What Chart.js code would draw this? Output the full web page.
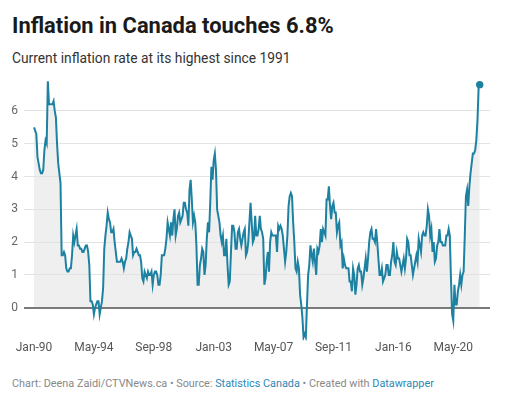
<!DOCTYPE html>
<html>
<head>
<meta charset="utf-8">
<script src="https://cdn.jsdelivr.net/npm/chart.js@4"></script>
<style>
  body { margin:0; background:#fff; font-family:Roboto, sans-serif; width:514px; height:398px; overflow:hidden; position:relative; }
  .title { position:absolute; left:12px; top:15px; margin:0; font-size:21.9px; line-height:1; font-weight:700; color:#1a1a1a; }
  .sub { position:absolute; left:12px; top:51.5px; font-size:13.8px; line-height:1; color:#333; }
  .chart { position:absolute; left:0; top:70px; width:514px; height:300px; }
  .foot { position:absolute; left:12px; top:379px; font-size:10.85px; line-height:1; color:#888; white-space:nowrap; }
  .foot a { color:#2b88b8; text-decoration:none; }
</style>
</head>
<body>
<div class="title">Inflation in Canada touches 6.8%</div>
<div class="sub">Current inflation rate at its highest since 1991</div>
<div class="chart"><canvas id="chart-cpi" width="514" height="300"></canvas></div>
<div class="foot">Chart: Deena Zaidi/CTVNews.ca • Source: <a>Statistics Canada</a> • Created with <a>Datawrapper</a></div>

<script>
// monthly CPI, 12-month % change, Jan 1990 .. Apr 2022
const startYear = 1990;
const cpi = [
  5.5, 5.4, 5.3, 4.6, 4.4, 4.2, 4.1, 4.1, 4.2, 4.8, 5.1, 5.0,   // 1990
  6.9, 6.2, 6.2, 6.2, 6.2, 6.3, 6.0, 5.8, 5.0, 4.4, 4.1, 3.8,   // 1991
  1.6, 1.6, 1.7, 1.6, 1.2, 1.1, 1.1, 1.2, 1.2, 1.6, 2.2, 2.0,   // 1992
  2.2, 2.4, 1.9, 1.9, 1.8, 1.8, 1.7, 1.7, 1.8, 1.9, 1.9, 1.7,   // 1993
  1.3, 0.2, 0.2, 0.1, -0.2, 0.0, 0.1, 0.2, 0.2, -0.2, 0.0, 0.2, // 1994
  0.6, 1.8, 2.2, 2.5, 2.9, 2.7, 2.6, 2.3, 2.3, 2.4, 2.0, 1.7,   // 1995
  1.4, 1.4, 1.4, 1.4, 1.5, 1.4, 1.2, 1.4, 1.5, 1.8, 2.0, 2.3,   // 1996
  2.2, 2.1, 1.6, 1.7, 1.7, 1.8, 1.7, 1.6, 1.6, 1.4, 0.9, 0.8,   // 1997
  1.1, 1.0, 0.9, 1.1, 1.0, 1.0, 1.1, 0.7, 1.0, 1.1, 1.1, 1.0,   // 1998
  0.7, 0.7, 1.0, 1.6, 1.6, 1.6, 1.8, 2.1, 2.6, 2.4, 2.2, 2.6,   // 1999
  2.2, 2.7, 3.0, 2.2, 2.4, 2.8, 2.9, 2.6, 2.7, 2.8, 3.2, 3.2,   // 2000
  3.0, 2.9, 2.5, 3.6, 3.9, 3.3, 2.6, 2.8, 2.6, 1.9, 0.7, 0.7,   // 2001
  1.3, 1.5, 1.8, 1.7, 1.0, 1.3, 2.1, 2.6, 2.3, 3.2, 4.3, 3.9,   // 2002
  4.5, 4.7, 4.2, 3.0, 2.8, 2.6, 2.2, 2.0, 2.2, 1.6, 1.6, 2.1,   // 2003
  1.3, 0.7, 0.8, 1.7, 2.5, 2.5, 2.3, 1.8, 1.8, 2.3, 2.4, 2.1,   // 2004
  1.9, 2.1, 2.3, 2.4, 1.6, 1.7, 2.0, 2.6, 3.2, 2.6, 2.0, 2.1,   // 2005
  2.8, 2.2, 2.2, 2.4, 2.8, 2.4, 2.3, 2.1, 0.7, 0.9, 1.4, 1.7,   // 2006
  1.1, 2.0, 2.3, 2.2, 2.2, 2.2, 2.2, 1.7, 2.5, 2.4, 2.5, 2.4,   // 2007
  2.2, 1.8, 1.4, 1.7, 2.2, 3.1, 3.4, 3.5, 3.4, 2.6, 2.0, 1.2,   // 2008
  1.1, 1.4, 1.2, 0.4, 0.1, -0.3, -0.9, -0.8, -0.9, 0.1, 1.0, 1.3, // 2009
  1.9, 1.6, 1.4, 1.8, 1.4, 1.0, 1.8, 1.7, 1.9, 2.4, 2.0, 2.4,   // 2010
  2.3, 2.2, 3.3, 3.3, 3.7, 3.1, 2.7, 3.1, 3.2, 2.9, 2.9, 2.3,   // 2011
  2.5, 2.6, 1.9, 2.0, 1.2, 1.5, 1.3, 1.2, 1.2, 1.2, 0.8, 0.8,   // 2012
  0.5, 1.2, 1.0, 0.4, 0.7, 1.2, 1.3, 1.1, 1.1, 0.7, 0.9, 1.2,   // 2013
  1.5, 1.1, 1.5, 2.0, 2.3, 2.4, 2.1, 2.1, 2.0, 2.4, 2.0, 1.5,   // 2014
  1.0, 1.0, 1.2, 0.8, 0.9, 1.0, 1.3, 1.3, 1.0, 1.0, 1.4, 1.6,   // 2015
  2.0, 1.4, 1.3, 1.7, 1.5, 1.5, 1.3, 1.1, 1.3, 1.5, 1.2, 1.5,   // 2016
  2.1, 2.0, 1.6, 1.6, 1.3, 1.0, 1.2, 1.4, 1.6, 1.4, 2.1, 1.9,   // 2017
  1.7, 2.2, 2.3, 2.2, 2.2, 2.5, 3.0, 2.8, 2.2, 2.4, 1.7, 2.0,   // 2018
  1.4, 1.5, 1.9, 2.0, 2.4, 2.0, 2.0, 1.9, 1.9, 1.9, 2.2, 2.2,   // 2019
  2.4, 2.2, 0.9, -0.2, -0.4, 0.7, 0.1, 0.1, 0.5, 0.7, 1.0, 0.7, // 2020
  1.0, 1.1, 2.2, 3.4, 3.6, 3.1, 3.7, 4.1, 4.4, 4.7, 4.7, 4.8,   // 2021
  5.1, 5.7, 6.7, 6.8                                           // 2022
];

// x axis ticks (month index from Jan-90) and their labels
const xTickIdx    = [0, 52, 104, 156, 208, 260, 312, 364];
const xTickLabels = ['Jan-90', 'May-94', 'Sep-98', 'Jan-03', 'May-07', 'Sep-11', 'Jan-16', 'May-20'];
const yTicks      = [0, 1, 2, 3, 4, 5, 6];

const C = {
  line: '#1d81a2',
  fill: '#efefef',
  grid: '#e3e3e3',
  zero: '#7a7a7a',
  tick: '#666',
};

// drop the label overhang padding so the plot box stays where we put it
function noPad(s) {
  s.paddingTop = 0; s.paddingBottom = 0; s.paddingLeft = 0; s.paddingRight = 0;
}

function buildChart() {
  const ctx = document.getElementById('chart-cpi').getContext('2d');
  const last = cpi.length - 1;
  new Chart(ctx, {
    type: 'line',
    data: {
      datasets: [{
        data: cpi.map((v, i) => ({ x: i, y: v })),
        borderColor: C.line,
        backgroundColor: C.fill,
        borderWidth: 2,
        fill: 'origin',
        tension: 0,
        pointRadius: c => c.dataIndex === last ? 3.7 : 0,
        pointBackgroundColor: C.line,
        pointBorderWidth: 0,
      }]
    },
    options: {
      responsive: false,
      animation: false,
      events: [],
      layout: { padding: { left: 0, right: 24, top: 8.1, bottom: 0 } },
      plugins: {
        legend: { display: false },
        tooltip: { enabled: false },
        filler: { drawTime: 'beforeDraw' },
      },
      scales: {
        x: {
          type: 'linear',
          min: -8.7,
          max: 395.9,
          afterBuildTicks: s => { s.ticks = xTickIdx.map(v => ({ value: v })); },
          afterFit: s => { s.height = 29.5; noPad(s); },
          grid: { display: false, drawTicks: false, tickLength: 0 },
          border: { display: false },
          ticks: {
            padding: 0,
            color: '#555',
            maxRotation: 0,
            autoSkip: false,
            font: { family: 'Roboto', size: 12 },
            callback: v => xTickLabels[xTickIdx.indexOf(v)],
          }
        },
        y: {
          min: -1,
          max: 7,
          afterBuildTicks: s => { s.ticks = yTicks.map(v => ({ value: v })); },
          afterFit: s => { s.width = 24; noPad(s); },
          grid: {
            drawTicks: false,
            color: c => c.tick && c.tick.value === 0 ? C.zero : C.grid,
            lineWidth: c => c.tick && c.tick.value === 0 ? 2 : 1,
          },
          border: { display: false },
          ticks: {
            padding: 6,
            color: C.tick,
            font: { family: 'Roboto', size: 12 },
          }
        }
      }
    }
  });
}

buildChart();
</script>
</body>
</html>
